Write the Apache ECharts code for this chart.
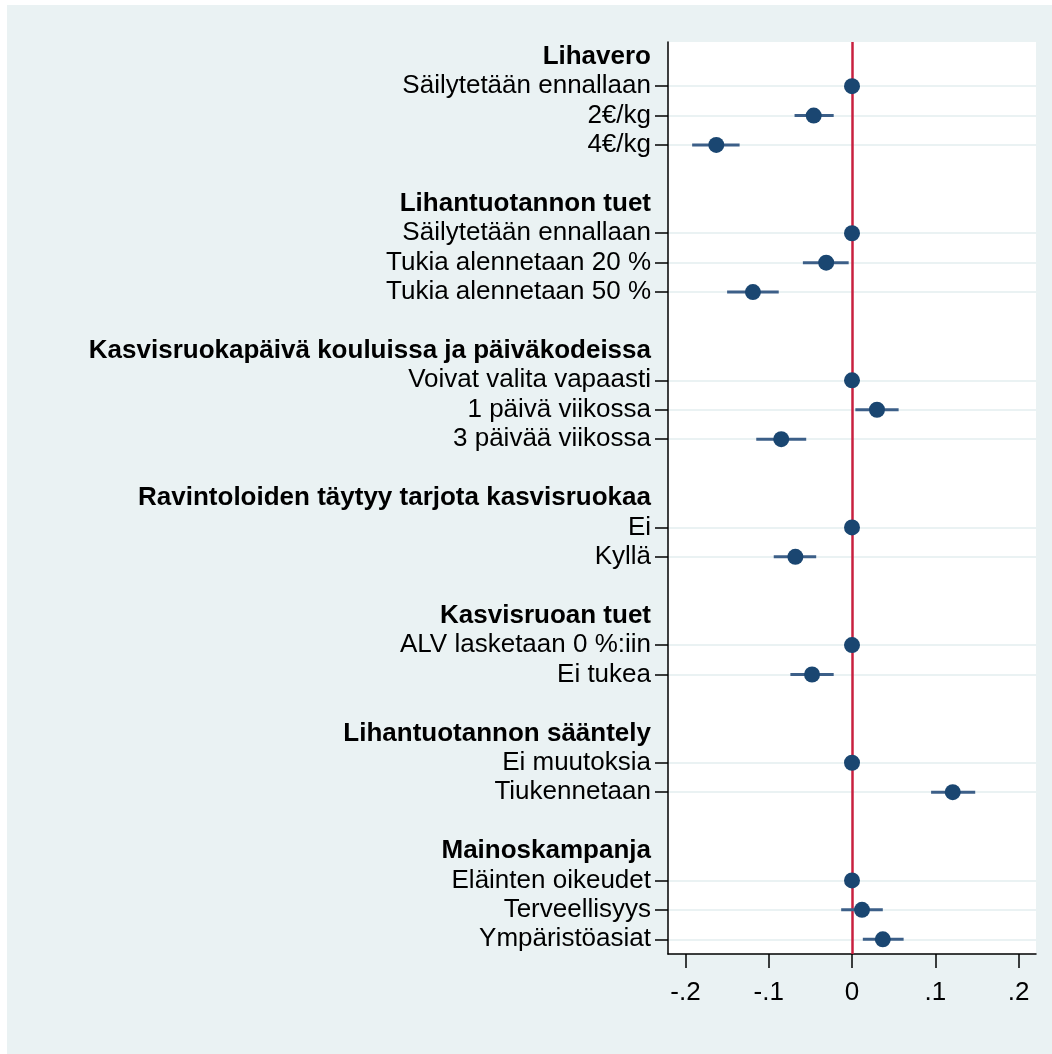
<!DOCTYPE html>
<html>
<head>
<meta charset="utf-8">
<script src="https://cdn.jsdelivr.net/npm/echarts@6/dist/echarts.min.js"></script>
<style>
  html, body { margin: 0; padding: 0; background: #fff; }
  #chart { width: 1052px; height: 1054px; }
</style>
</head>
<body>
<div id="chart"></div>
<script>
// ryhmät ja niiden tasot (ylhäältä alas)
const groups = [
  'Lihavero',
  'Lihantuotannon tuet',
  'Kasvisruokapäivä kouluissa ja päiväkodeissa',
  'Ravintoloiden täytyy tarjota kasvisruokaa',
  'Kasvisruoan tuet',
  'Lihantuotannon sääntely',
  'Mainoskampanja'
]
const levels = [
  ['Säilytetään ennallaan', '2€/kg', '4€/kg'],
  ['Säilytetään ennallaan', 'Tukia alennetaan 20 %', 'Tukia alennetaan 50 %'],
  ['Voivat valita vapaasti', '1 päivä viikossa', '3 päivää viikossa'],
  ['Ei', 'Kyllä'],
  ['ALV lasketaan 0 %:iin', 'Ei tukea'],
  ['Ei muutoksia', 'Tiukennetaan'],
  ['Eläinten oikeudet', 'Terveellisyys', 'Ympäristöasiat']
]
// piste-estimaatit; vertailuluokalla (0) ei luottamusväliä
const estimates = [
  [0, -0.046, -0.163],
  [0, -0.031, -0.119],
  [0, 0.030, -0.085],
  [0, -0.068],
  [0, -0.048],
  [0, 0.121],
  [0, 0.012, 0.037]
]
const lower = [
  [null, -0.069, -0.192],
  [null, -0.059, -0.150],
  [null, 0.004, -0.115],
  [null, -0.094],
  [null, -0.074],
  [null, 0.095],
  [null, -0.013, 0.013]
]
const upper = [
  [null, -0.022, -0.135],
  [null, -0.004, -0.088],
  [null, 0.056, -0.055],
  [null, -0.043],
  [null, -0.022],
  [null, 0.148],
  [null, 0.037, 0.062]
]
const xTicks = [-0.2, -0.1, 0, 0.1, 0.2]
const xTickLabels = ['-.2', '-.1', '0', '.1', '.2']

const FONT = 'Liberation Sans'
const FS = 26
const BG = '#eaf2f3'

// rivit: otsikko, tasot, tyhjä väli
let rowLabels = []
let rowKind = [] // 'h' otsikko, 'i' taso, 'b' tyhjä
let points = []
let bars = []
groups.forEach((g, gi) => {
  rowLabels.push(g); rowKind.push('h')
  levels[gi].forEach((lv, li) => {
    const idx = rowLabels.length
    rowLabels.push(lv); rowKind.push('i')
    points.push([estimates[gi][li], idx])
    if (lower[gi][li] !== null) {
      bars.push([lower[gi][li], idx, upper[gi][li]])
    }
  })
  if (gi < groups.length - 1) {
    rowLabels.push(''); rowKind.push('b')
  }
})

const chart = echarts.init(document.getElementById('chart'))

chart.setOption({
  backgroundColor: '#fff',
  animation: false,
  graphic: [{
    type: 'rect',
    left: 7,
    top: 5,
    z: -10,
    shape: { width: 1045, height: 1049 },
    style: { fill: BG }
  }],
  grid: {
    left: 668,
    right: 16,
    top: 42,
    bottom: 100,
    show: true,
    backgroundColor: '#fff',
    borderWidth: 0,
    outerBoundsMode: 'none'
  },
  xAxis: {
    type: 'value',
    min: -0.221,
    max: 0.221,
    axisLine: { show: true, onZero: false, lineStyle: { color: '#000', width: 1.5 } },
    axisTick: {
      show: true,
      customValues: xTicks,
      length: 14,
      lineStyle: { color: '#000', width: 1.5 }
    },
    axisLabel: {
      customValues: xTicks,
      margin: 26,
      color: '#000',
      fontFamily: FONT,
      fontSize: FS,
      formatter: v => xTickLabels[xTicks.findIndex(t => Math.abs(t - v) < 1e-9)]
    },
    splitLine: { show: false }
  },
  yAxis: {
    type: 'category',
    inverse: true,
    data: rowLabels,
    axisLine: { show: true, onZero: false, lineStyle: { color: '#000', width: 1.5 } },
    axisTick: {
      show: true,
      alignWithLabel: true,
      length: 13,
      interval: (i) => rowKind[i] === 'i',
      lineStyle: { color: '#000', width: 1.5 }
    },
    axisLabel: {
      interval: 0,
      margin: 17,
      color: '#000',
      fontFamily: FONT,
      fontSize: FS,
      formatter: (value, index) => rowKind[index] === 'h' ? '{h|' + value + '}' : value,
      rich: {
        h: { fontWeight: 'bold', fontFamily: FONT, fontSize: FS, color: '#000' }
      }
    },
    splitLine: {
      show: true,
      alignWithLabel: true,
      interval: (i) => rowKind[i] === 'i',
      lineStyle: { color: BG, width: 2 }
    }
  },
  series: [
    {
      type: 'custom',
      z: 2,
      data: bars,
      renderItem: (params, api) => {
        const a = api.coord([api.value(0), api.value(1)])
        const b = api.coord([api.value(2), api.value(1)])
        return {
          type: 'line',
          shape: { x1: a[0], y1: a[1], x2: b[0], y2: b[1] },
          style: { stroke: '#3c5f88', lineWidth: 3 }
        }
      }
    },
    {
      type: 'scatter',
      z: 3,
      data: points,
      symbol: 'circle',
      symbolSize: 16,
      itemStyle: { color: '#1a4671', opacity: 1 },
      markLine: {
        silent: true,
        z: 1,
        symbol: 'none',
        label: { show: false },
        lineStyle: { color: '#c8203f', width: 2.5, type: 'solid' },
        data: [{ xAxis: 0 }]
      }
    }
  ]
})
</script>
</body>
</html>
